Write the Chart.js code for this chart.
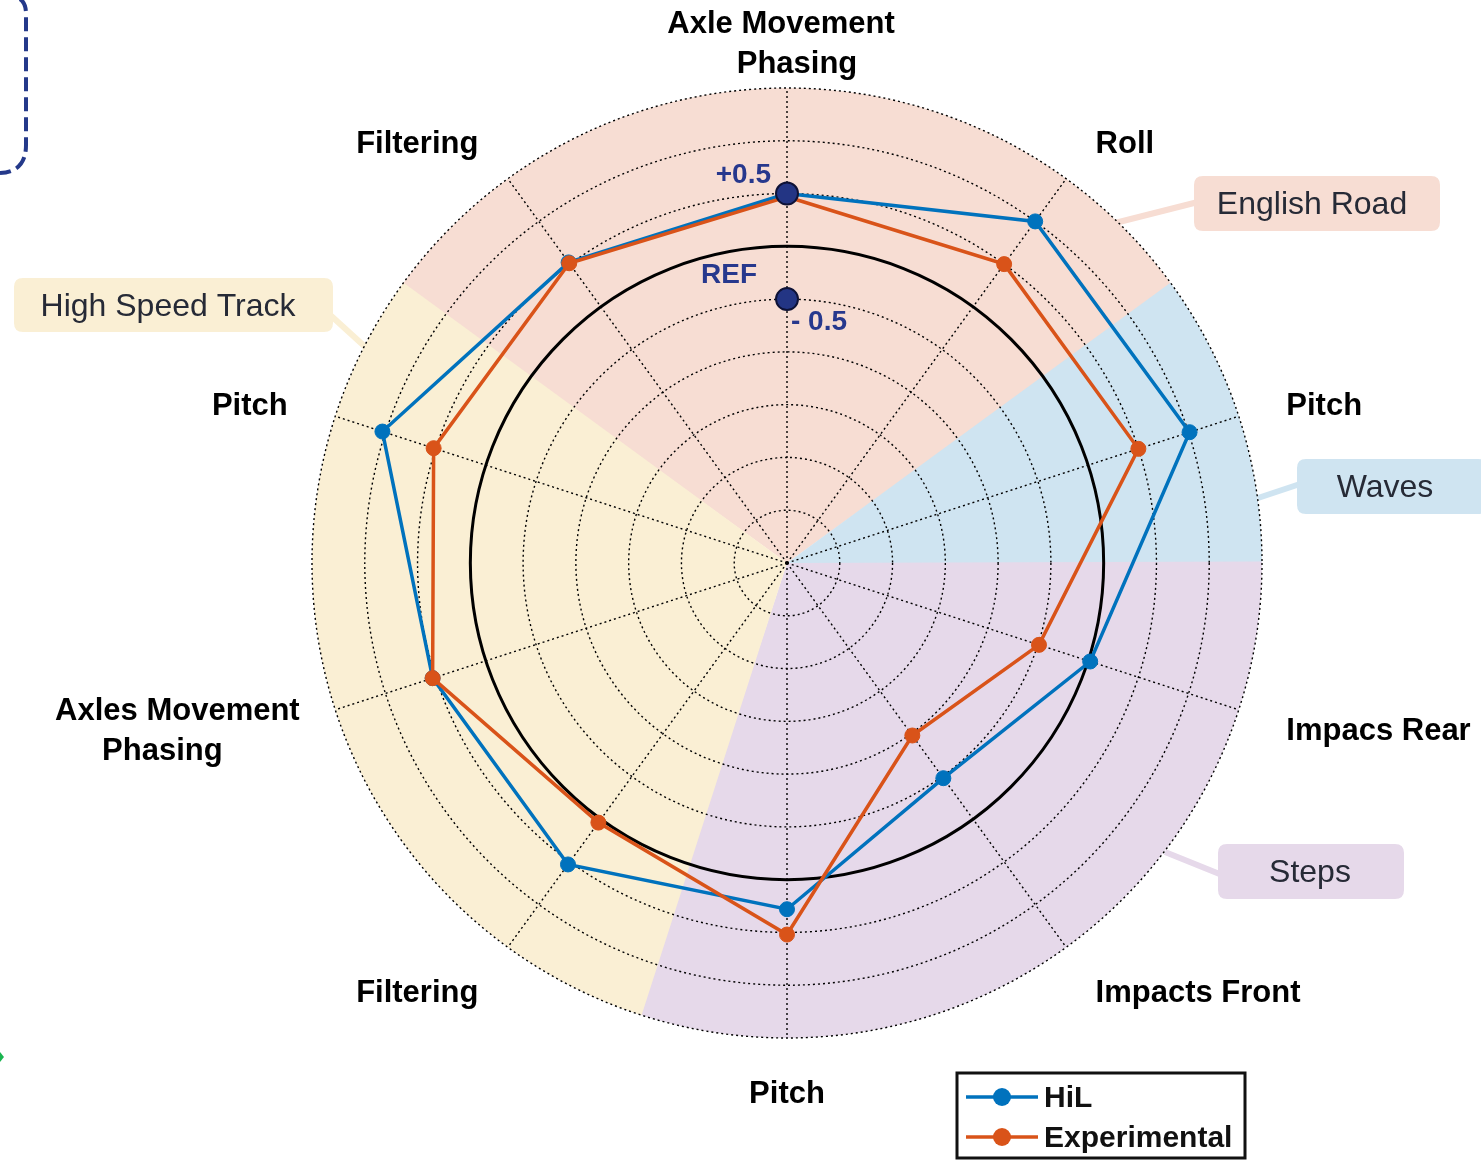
<!DOCTYPE html>
<html>
<head>
<meta charset="utf-8">
<script src="https://cdn.jsdelivr.net/npm/chart.js@4.4.1/dist/chart.umd.min.js"></script>
<style>
  html, body { margin: 0; padding: 0; background: #ffffff; }
  #wrap { position: relative; width: 1481px; height: 1160px; }
</style>
</head>
<body>
<div id="wrap"><canvas id="c"></canvas></div>
<script>
// ---- data ----
const categories = [
  ['Axle Movement', 'Phasing'], 'Roll', 'Pitch', 'Impacs Rear', 'Impacts Front',
  'Pitch', 'Filtering', ['Axles Movement', 'Phasing'], 'Pitch', 'Filtering'
];
const hilValues = [0.50, 1.00, 1.01, 0.02, -0.48, 0.28, 0.53, 0.53, 1.03, 0.52];
const expValues = [0.47, 0.50, 0.50, -0.49, -0.98, 0.52, 0.04, 0.53, 0.52, 0.51];
const refMarkers = [0.5, -0.5];
const refLabels = ['+0.5', 'REF', '- 0.5'];
const scaleMin = -3, scaleMax = 1.5, scaleStep = 0.5, refValue = 0;
const seriesNames = ['HiL', 'Experimental'];
const regionNames = ['English Road', 'Waves', 'Steps', 'High Speed Track'];
const regionFrom = [9, 2, 3, 6];
const regionTo = [1, 2, 5, 8];

// ---- styles ----
const BLUE = '#0072BD', ORANGE = '#D95319', NAVY = '#233584', NAVY_TXT = '#27388d';
const regionFill = ['#f7ddd3', '#cfe4f1', '#e6d9ea', '#faefd4'];
const regionBox = [
  {x: 1194, y: 176, w: 246, h: 55, tx: 1312, lx1: 1115, ly1: 223, lx2: 1198, ly2: 202},
  {x: 1297, y: 459, w: 190, h: 55, tx: 1385, lx1: 1258, ly1: 498, lx2: 1300, ly2: 484},
  {x: 1218, y: 844, w: 186, h: 55, tx: 1310, lx1: 1165, ly1: 852, lx2: 1222, ly2: 875},
  {x: 14,   y: 278, w: 319, h: 54, tx: 168,  lx1: 373, ly1: 354, lx2: 328, ly2: 313}
];
const labelFont = 'bold 31px "Liberation Sans", Arial, sans-serif';
const lineNudge = {0: [-6, 10], 7: [12, -65]};

const N = categories.length;
const emptyRow = () => categories.map(() => null);
const markerData = refMarkers.map(v => { const r = emptyRow(); r[0] = v; return r; });

function roundRect(ctx, x, y, w, h, r) {
  ctx.beginPath();
  ctx.moveTo(x + r, y);
  ctx.lineTo(x + w - r, y); ctx.quadraticCurveTo(x + w, y, x + w, y + r);
  ctx.lineTo(x + w, y + h - r); ctx.quadraticCurveTo(x + w, y + h, x + w - r, y + h);
  ctx.lineTo(x + r, y + h); ctx.quadraticCurveTo(x, y + h, x, y + h - r);
  ctx.lineTo(x, y + r); ctx.quadraticCurveTo(x, y, x + r, y);
  ctx.closePath();
}

const decor = {
  id: 'decor',
  beforeDraw(chart) {
    const s = chart.scales.r, ctx = chart.ctx;
    const half = Math.PI / N;
    ctx.save();
    // connectors
    regionNames.forEach((name, k) => {
      const b = regionBox[k];
      ctx.strokeStyle = regionFill[k];
      ctx.lineWidth = 6;
      ctx.lineCap = 'butt';
      ctx.beginPath(); ctx.moveTo(b.lx1, b.ly1); ctx.lineTo(b.lx2, b.ly2); ctx.stroke();
    });
    // sectors
    regionNames.forEach((name, k) => {
      const a0 = s.getIndexAngle(regionFrom[k]) - Math.PI / 2 - half - 0.003;
      let a1 = s.getIndexAngle(regionTo[k]) - Math.PI / 2 + half + 0.003;
      if (a1 < a0) a1 += 2 * Math.PI;
      ctx.beginPath();
      ctx.moveTo(s.xCenter, s.yCenter);
      ctx.arc(s.xCenter, s.yCenter, s.drawingArea, a0, a1);
      ctx.closePath();
      ctx.fillStyle = regionFill[k];
      ctx.fill();
    });
    // boxes
    regionNames.forEach((name, k) => {
      const b = regionBox[k];
      roundRect(ctx, b.x, b.y, b.w, b.h, 9);
      ctx.fillStyle = regionFill[k];
      ctx.fill();
      ctx.fillStyle = '#262a36';
      ctx.font = '32px "Liberation Sans", Arial, sans-serif';
      ctx.textAlign = 'center';
      ctx.textBaseline = 'middle';
      ctx.fillText(name, b.tx, b.y + b.h / 2 + 2);
    });
    // cropped fragments at the left edge
    ctx.strokeStyle = '#24398a';
    ctx.lineWidth = 4;
    ctx.setLineDash([14, 6]);
    ctx.beginPath();
    ctx.moveTo(20, -1);
    ctx.quadraticCurveTo(26, 3, 26, 14);
    ctx.lineTo(26, 145);
    ctx.quadraticCurveTo(26, 172, 0, 173);
    ctx.stroke();
    ctx.setLineDash([]);
    ctx.fillStyle = '#19b550';
    ctx.beginPath(); ctx.moveTo(0, 1052); ctx.lineTo(4, 1057); ctx.lineTo(0, 1062); ctx.closePath(); ctx.fill();
    ctx.restore();
  },
  afterDraw(chart) {
    const s = chart.scales.r, ctx = chart.ctx;
    ctx.save();
    // axis labels
    ctx.font = labelFont;
    ctx.fillStyle = '#000';
    ctx.textBaseline = 'middle';
    const R = s.drawingArea + 50;
    categories.forEach((lab, i) => {
      const p = s.getPointPosition(i, R);
      const deg = Math.round(i * 360 / N);
      ctx.textAlign = (deg === 0 || deg === 180) ? 'center' : (deg < 180 ? 'left' : 'right');
      const lines = Array.isArray(lab) ? lab : [lab];
      lines.forEach((t, k) => {
        const dy = (k - (lines.length - 1) / 2) * 40;
        const dx = lineNudge[i] ? lineNudge[i][k] : 0;
        ctx.fillText(t, p.x + dx, p.y + 6 + dy);
      });
    });
    // reference labels
    ctx.font = 'bold 28px "Liberation Sans", Arial, sans-serif';
    ctx.fillStyle = NAVY_TXT;
    const pPlus = s.getPointPositionForValue(0, refMarkers[0]);
    const pRef = s.getPointPositionForValue(0, refValue);
    const pMin = s.getPointPositionForValue(0, refMarkers[1]);
    ctx.textAlign = 'right';
    ctx.fillText(refLabels[0], pPlus.x - 16, pPlus.y - 18);
    ctx.fillText(refLabels[1], pRef.x - 30, pRef.y + 29);
    ctx.textAlign = 'left';
    ctx.fillText(refLabels[2], pMin.x + 4, pMin.y + 23);
    // legend
    const lx = 957, ly = 1073, lw = 288, lh = 85;
    ctx.strokeStyle = '#111';
    ctx.lineWidth = 3;
    ctx.strokeRect(lx, ly, lw, lh);
    const cols = [BLUE, ORANGE];
    seriesNames.forEach((nm, k) => {
      const y = 1097 + k * 40;
      ctx.strokeStyle = cols[k];
      ctx.lineWidth = 3.5;
      ctx.beginPath(); ctx.moveTo(966, y); ctx.lineTo(1038, y); ctx.stroke();
      ctx.fillStyle = cols[k];
      ctx.beginPath(); ctx.arc(1002, y, 9, 0, Math.PI * 2); ctx.fill();
      ctx.fillStyle = '#111';
      ctx.font = 'bold 30px "Liberation Sans", Arial, sans-serif';
      ctx.textAlign = 'left';
      ctx.fillText(nm, 1044, y + 2);
    });
    ctx.restore();
  }
};

new Chart(document.getElementById('c'), {
  type: 'radar',
  data: {
    labels: categories,
    datasets: [
      {
        label: 'ref+', data: markerData[0], showLine: false, order: 1,
        pointRadius: 11, pointBackgroundColor: NAVY, pointBorderColor: '#0e1236', pointBorderWidth: 2
      },
      {
        label: 'ref-', data: markerData[1], showLine: false, order: 1,
        pointRadius: 11, pointBackgroundColor: NAVY, pointBorderColor: '#0e1236', pointBorderWidth: 2
      },
      {
        label: seriesNames[1], data: expValues, order: 2, fill: false,
        borderColor: ORANGE, borderWidth: 3.5, backgroundColor: 'rgba(0,0,0,0)',
        pointRadius: 7.5, pointBackgroundColor: ORANGE, pointBorderColor: ORANGE, pointBorderWidth: 1
      },
      {
        label: seriesNames[0], data: hilValues, order: 3, fill: false,
        borderColor: BLUE, borderWidth: 3.5, backgroundColor: 'rgba(0,0,0,0)',
        pointRadius: 7.5, pointBackgroundColor: BLUE, pointBorderColor: BLUE, pointBorderWidth: 1
      }
    ]
  },
  options: {
    responsive: true,
    maintainAspectRatio: false,
    animation: false,
    layout: { padding: { left: 312, right: 219, top: 88, bottom: 122 } },
    elements: { line: { tension: 0 } },
    plugins: { legend: { display: false }, tooltip: { enabled: false } },
    scales: {
      r: {
        min: scaleMin, max: scaleMax,
        ticks: { stepSize: scaleStep, display: false },
        pointLabels: { display: false },
        grid: {
          circular: true,
          color: '#000',
          lineWidth: ctx => (ctx.tick && ctx.tick.value === refValue) ? 3 : 1.4
        },
        border: {
          dash: ctx => (ctx.tick && ctx.tick.value === refValue) ? [] : [2, 3]
        },
        angleLines: { color: '#000', lineWidth: 1.4, borderDash: [2, 3] }
      }
    }
  },
  plugins: [decor]
});
</script>
</body>
</html>
